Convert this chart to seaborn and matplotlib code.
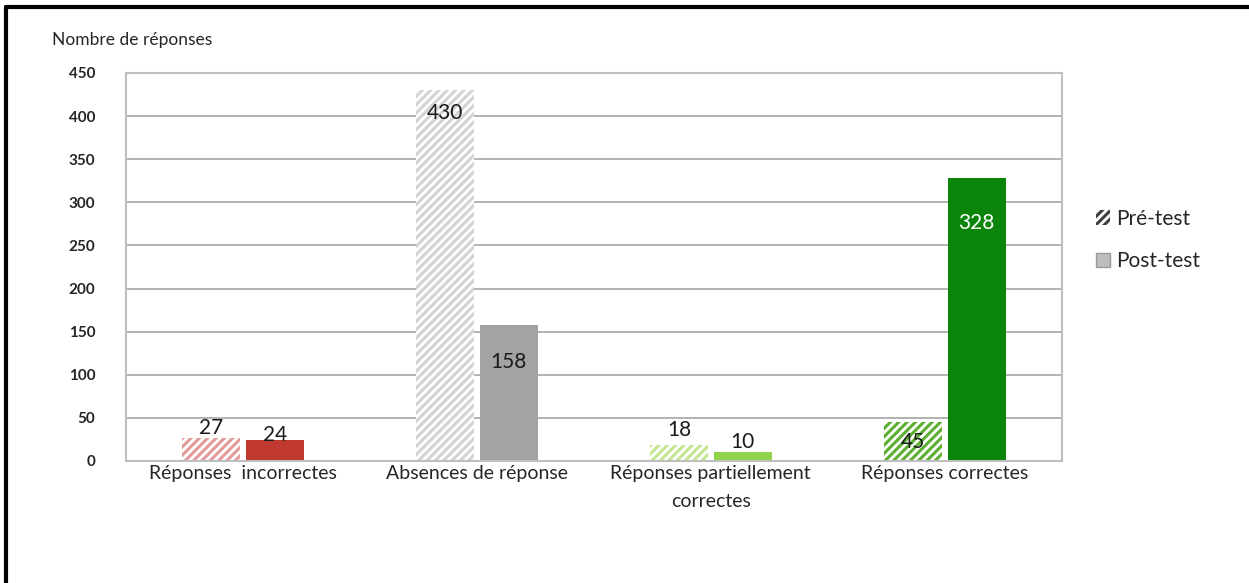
import numpy as np
import pandas as pd
import matplotlib.pyplot as plt
import seaborn as sns
from matplotlib.patches import Patch
from matplotlib.lines import Line2D

# données
categories = ['Réponses  incorrectes', 'Absences de réponse',
              'Réponses partiellement\ncorrectes', 'Réponses correctes']
pre_test = [27, 430, 18, 45]
post_test = [24, 158, 10, 328]
tests = ['Pré-test', 'Post-test']

# couleurs par catégorie (pré-test hachuré clair, post-test plein)
pre_colors = ['#e49a9a', '#d4d4d4', '#c6e58f', '#5cb032']
post_colors = ['#c0392f', '#a3a3a3', '#8fd44a', '#0a850a']

df = pd.DataFrame({
    'cat': categories * 2,
    'val': pre_test + post_test,
    'test': [tests[0]] * 4 + [tests[1]] * 4,
})

sns.set_style('white')
plt.rcParams['font.family'] = ['Lato', 'DejaVu Sans']
plt.rcParams['hatch.linewidth'] = 2.0

fig = plt.figure(figsize=(12.49, 5.83), dpi=100)
ax = fig.add_axes([0.1009, 0.2093, 0.7491, 0.6655])

sns.barplot(data=df, x='cat', y='val', hue='test', order=categories,
            hue_order=tests, width=0.545, gap=0.09, ax=ax, legend=False,
            saturation=1)

for i, bar in enumerate(ax.containers[0]):
    bar.set_facecolor(pre_colors[i])
    bar.set_edgecolor('white')
    bar.set_hatch('////')
    bar.set_linewidth(0)
for i, bar in enumerate(ax.containers[1]):
    bar.set_facecolor(post_colors[i])
    bar.set_edgecolor(post_colors[i])
    bar.set_linewidth(0)

# étiquettes de valeurs : décalage vertical (unités de données), négatif = dans la barre
pre_off = [4, -33, 11, None]
post_off = [-1, -50, 5, -59]

def lab(bar, v, off, color='#1a1a1a'):
    x = bar.get_x() + bar.get_width() / 2
    if off is None:
        ax.text(x, v / 2, str(v), ha='center', va='center', fontsize=15, color=color)
    else:
        ax.text(x, v + off, str(v), ha='center', va='baseline', fontsize=15, color=color)

for i, bar in enumerate(ax.containers[0]):
    lab(bar, pre_test[i], pre_off[i])
for i, bar in enumerate(ax.containers[1]):
    lab(bar, post_test[i], post_off[i], color='white' if i == 3 else '#1a1a1a')

ax.set_ylim(0, 450)
ax.set_yticks(np.arange(0, 451, 50))
ax.yaxis.grid(True, color='#a6a6a6', linewidth=1.2)
ax.set_axisbelow(True)
for s in ax.spines.values():
    s.set_color('#bfbfbf')
    s.set_linewidth(1.5)
ax.set_xlabel('')
ax.set_ylabel('')
ax.tick_params(axis='y', labelsize=11, length=0, pad=22)
ax.tick_params(axis='x', labelsize=14, length=0, pad=3)
for t in ax.get_yticklabels():
    t.set_fontweight('bold')
for t in ax.get_xticklabels():
    t.set_linespacing(1.75)

fig.text(52 / 1249, 1 - 40 / 583, 'Nombre de réponses', fontsize=12.5, va='center')

handles = [Patch(facecolor='#404040', edgecolor='white', hatch='////', linewidth=0),
           Patch(facecolor='#bdbdbd', edgecolor='#9a9a9a', linewidth=1)]
fig.legend(handles, tests, loc='center left', bbox_to_anchor=(1077 / 1249, 1 - 240 / 583),
           frameon=False, fontsize=15, handlelength=0.7, handleheight=0.7,
           handletextpad=0.3, labelspacing=1.1)

# cadre extérieur (gauche et haut)
fig.add_artist(Line2D([6 / 1249, 6 / 1249], [0, 1 - 7 / 583], color='black', linewidth=3))
fig.add_artist(Line2D([6 / 1249, 1], [1 - 7 / 583, 1 - 7 / 583], color='black', linewidth=3))

fig.savefig('out.png', dpi=100)
